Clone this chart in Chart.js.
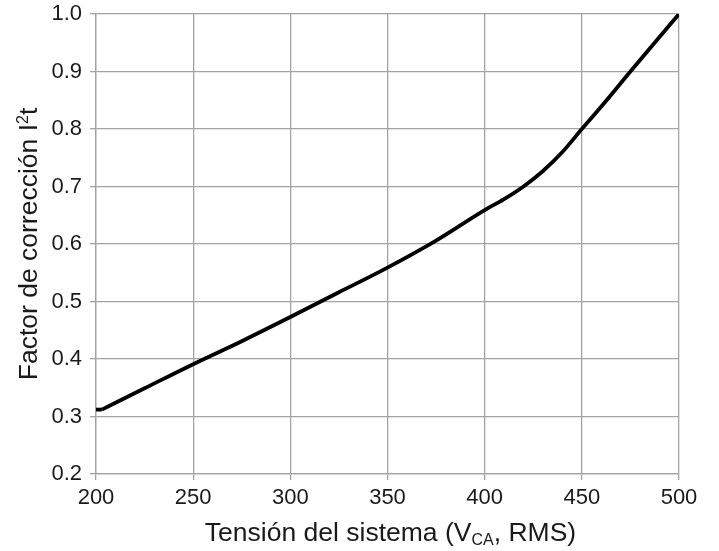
<!DOCTYPE html>
<html>
<head>
<meta charset="utf-8">
<script src="https://cdn.jsdelivr.net/npm/chart.js@4"></script>
<style>
  html, body { margin: 0; padding: 0; background: #fff; }
  #wrap { width: 719px; height: 551px; position: relative; }
</style>
</head>
<body>
<div id="wrap"><canvas id="plot"></canvas></div>
<script>
// Voltage (V AC, RMS) vs I2t correction factor
const voltage = [200, 203, 225, 250, 275, 300, 325, 350, 375, 400, 410, 420, 430, 440, 450, 462, 475, 488, 500];
const factor = [0.312, 0.312, 0.349, 0.391, 0.431, 0.473, 0.516, 0.559, 0.606, 0.659, 0.678, 0.7, 0.727, 0.76, 0.8, 0.847, 0.9, 0.952, 1.0];

const xTitle = [["Tensión del sistema (V", 0], ["CA", 1], [", RMS)", 0]];
const yTitle = [["Factor de corrección I", 0], ["2", -1], ["t", 0]];

const FONT = '"Liberation Sans", Arial, sans-serif';
const GRID = "#a3a3a3";
const INK = "#1a1a1a";

const points = voltage.map((v, i) => ({ x: v, y: factor[i] }));

// draws axis titles with sub/superscript parts
const axisTitles = {
  id: "axisTitles",
  afterDraw(chart) {
    const ctx = chart.ctx;
    const area = chart.chartArea;
    const big = 26.5, small = 16;
    function runs(parts) {
      return parts.map(([t, shift]) => {
        ctx.font = (shift ? small : big) + "px " + FONT;
        return { t, shift, font: ctx.font, w: ctx.measureText(t).width };
      });
    }
    function draw(list, x0, y0) {
      let x = x0;
      list.forEach(r => {
        ctx.font = r.font;
        ctx.fillText(r.t, x, y0 + (r.shift > 0 ? 4 : r.shift < 0 ? -9 : 0));
        x += r.w;
      });
    }
    ctx.save();
    ctx.fillStyle = INK;
    ctx.textBaseline = "alphabetic";
    ctx.textAlign = "left";
    const xr = runs(xTitle);
    const xw = xr.reduce((s, r) => s + r.w, 0);
    draw(xr, (area.left + area.right) / 2 - xw / 2 + 3, 541);

    const yr = runs(yTitle);
    const yw = yr.reduce((s, r) => s + r.w, 0);
    ctx.translate(37, (area.top + area.bottom) / 2);
    ctx.rotate(-Math.PI / 2);
    draw(yr, -yw / 2, 0);
    ctx.restore();
  }
};

const lineStyle = {
  showLine: true,
  borderColor: "#000",
  borderWidth: 3.8,
  borderJoinStyle: "round",
  pointRadius: 0,
  fill: false
};

new Chart(document.getElementById("plot"), {
  type: "scatter",
  data: {
    datasets: [
      // short flat start
      Object.assign({ data: points.slice(0, 2), tension: 0 }, lineStyle),
      // smooth curve from there on
      Object.assign({ data: points.slice(1), cubicInterpolationMode: "monotone" }, lineStyle)
    ]
  },
  options: {
    responsive: true,
    maintainAspectRatio: false,
    animation: false,
    layout: { padding: { top: 14, right: 40, left: 0, bottom: 0 } },
    plugins: { legend: { display: false }, tooltip: { enabled: false } },
    scales: {
      x: {
        type: "linear",
        min: 200,
        max: 500,
        afterFit(scale) { scale.height = 77; scale.paddingLeft = 0; scale.paddingRight = 0; },
        ticks: {
          stepSize: 50,
          color: INK,
          padding: 5,
          font: { family: FONT, size: 22 }
        },
        grid: { color: GRID, lineWidth: 1.3, tickLength: 6 },
        border: { color: GRID, width: 1.3 }
      },
      y: {
        type: "linear",
        min: 0.2,
        max: 1.0,
        afterFit(scale) { scale.width = 96; scale.paddingTop = 0; scale.paddingBottom = 0; },
        ticks: {
          stepSize: 0.1,
          color: INK,
          padding: 8,
          font: { family: FONT, size: 22 },
          callback: v => v.toFixed(1)
        },
        grid: { color: GRID, lineWidth: 1.3, tickLength: 6 },
        border: { color: GRID, width: 1.3 }
      }
    }
  },
  plugins: [axisTitles]
});
</script>
</body>
</html>
